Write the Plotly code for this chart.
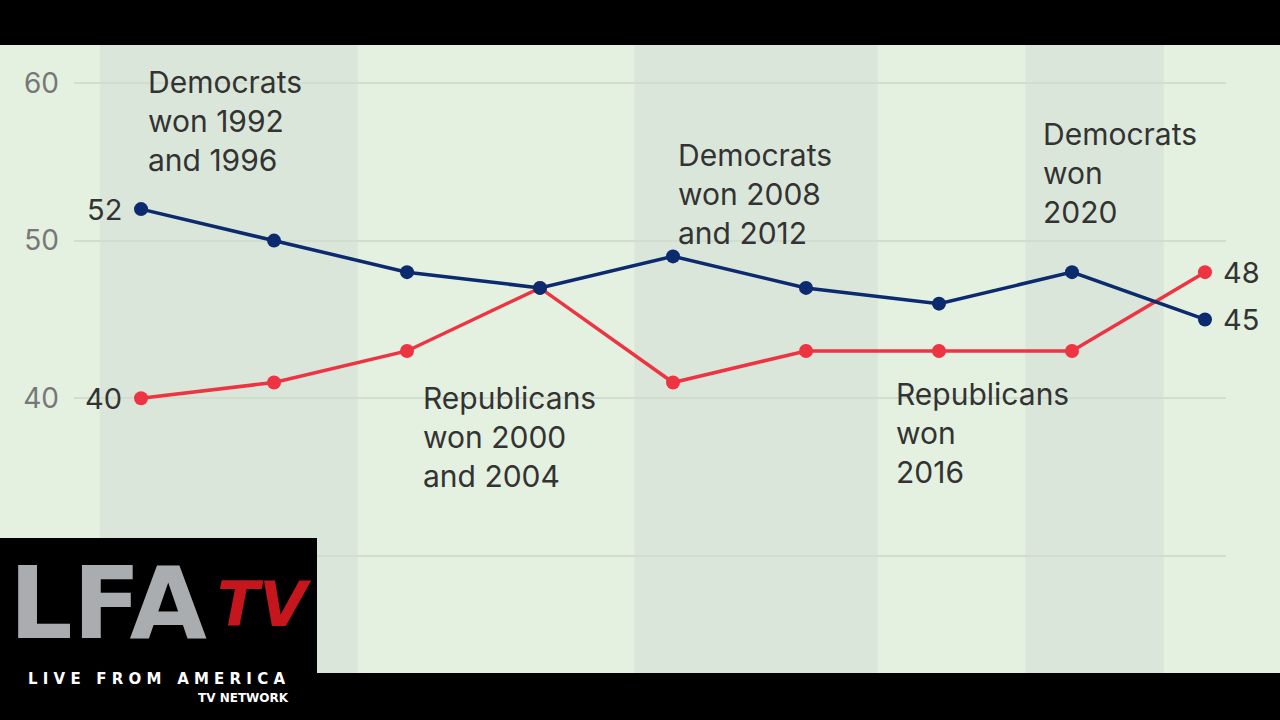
import plotly.graph_objects as go

# ---- data ----
points = list(range(9))
dem = [52, 50, 48, 47, 49, 47, 46, 48, 45]
rep = [40, 41, 43, 47, 41, 43, 43, 43, 48]
y_ticks = [30, 40, 50, 60]
# shaded Democratic-presidency bands (in point-index units)
bands = [(-0.31, 1.63), (3.71, 5.54), (6.65, 7.69)]

BLUE = "#0c2a6e"
RED = "#ee3342"
BG = "#e4f0e0"
BAND = "#dbe6da"
TXT = "#333333"
FONT = "Inter"

W, H = 1280, 720
L, R, T, B = 74, 54, 45, 47
PW, PH = W - L - R, H - T - B


def px(x):
    return (x - L) / PW


def py(y):
    return (H - B - y) / PH


fig = go.Figure()
fig.add_trace(go.Scatter(x=points, y=rep, mode="lines+markers",
                         line=dict(color=RED, width=3.5),
                         marker=dict(size=14, color=RED), hoverinfo="skip"))
fig.add_trace(go.Scatter(x=points, y=dem, mode="lines+markers",
                         line=dict(color=BLUE, width=3.5),
                         marker=dict(size=14, color=BLUE), hoverinfo="skip"))

shapes = []
for x0, x1 in bands:
    shapes.append(dict(type="rect", xref="x", yref="paper", x0=x0, x1=x1,
                       y0=0, y1=1, fillcolor=BAND, line_width=0, layer="below"))
# black bars top and bottom
shapes.append(dict(type="rect", xref="paper", yref="paper", x0=px(-5), x1=px(W + 5),
                   y0=1, y1=py(-5), fillcolor="black", line_width=0, layer="above"))
shapes.append(dict(type="rect", xref="paper", yref="paper", x0=px(-5), x1=px(W + 5),
                   y0=0, y1=py(H + 5), fillcolor="black", line_width=0, layer="above"))
# logo box
shapes.append(dict(type="rect", xref="paper", yref="paper", x0=px(-5), x1=px(317),
                   y0=py(538), y1=py(H + 5), fillcolor="black", line_width=0, layer="above"))

annotations = []


def note(text, x, y, size=30, color=TXT, anchor="left", family=FONT, bold=False):
    font = dict(family=family, size=size, color=color)
    if bold:
        font["weight"] = "bold"
    annotations.append(dict(text=text, xref="paper", yref="paper", x=px(x), y=py(y),
                            xanchor=anchor, yanchor="middle", showarrow=False,
                            align=anchor if anchor != "center" else "center",
                            borderpad=0, font=font))


note("Democrats<br>won 1992<br>and 1996", 147, 121)
note("Democrats<br>won 2008<br>and 2012", 677, 194)
note("Democrats<br>won<br>2020", 1042, 173)
note("Republicans<br>won 2000<br>and 2004", 422, 437)
note("Republicans<br>won<br>2016", 895, 433)

# end-point value labels
for val in (dem[0], rep[0]):
    annotations.append(dict(text=str(val), x=points[0], y=val, xref="x", yref="y",
                            xanchor="right", yanchor="middle", xshift=-17, showarrow=False,
                            font=dict(family=FONT, size=29, color=TXT)))
for val in (dem[-1], rep[-1]):
    annotations.append(dict(text=str(val), x=points[-1], y=val, xref="x", yref="y",
                            xanchor="left", yanchor="middle", xshift=16, showarrow=False,
                            font=dict(family=FONT, size=29, color=TXT)))

# logo
note("LFA", 8, 603, size=100, color="#a9adaf", family="DejaVu Sans", bold=True)
note("<i>TV</i>", 264, 604, size=62, color="#c4161c", family="DejaVu Sans",
     anchor="center", bold=True)
note("L I V E   F R O M   A M E R I C A", 156, 679, size=15, color="white",
     family="DejaVu Sans", anchor="center", bold=True)
note("TV NETWORK", 243, 698, size=12, color="white", family="DejaVu Sans",
     anchor="center", bold=True)

fig.update_layout(
    width=W, height=H,
    margin=dict(l=L, r=R, t=T, b=B),
    paper_bgcolor=BG, plot_bgcolor=BG,
    showlegend=False,
    shapes=shapes, annotations=annotations,
    xaxis=dict(range=[-0.504, 8.158], showgrid=False, zeroline=False,
               showticklabels=False, ticks="", fixedrange=True),
    yaxis=dict(range=[22.57, 62.41], tickvals=y_ticks,
               ticktext=["", "40", "50", "60"], showgrid=True,
               gridcolor="#d2ddd0", gridwidth=2, zeroline=False,
               ticks="", ticklabelstandoff=14, fixedrange=True,
               tickfont=dict(family=FONT, size=28, color="#777777")),
)

fig.write_html("out.html", config={"displayModeBar": False},
               post_script="document.body.style.margin='0';document.body.style.overflow='hidden';")
